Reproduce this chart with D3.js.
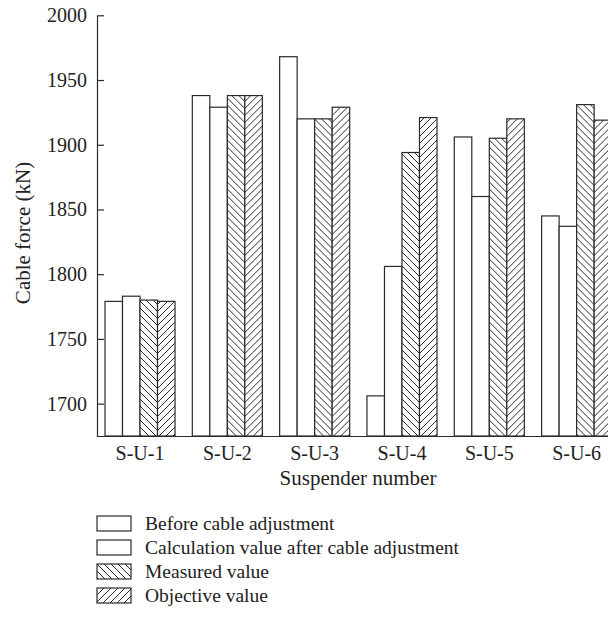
<!DOCTYPE html>
<html>
<head>
<meta charset="utf-8">
<script src="https://cdn.jsdelivr.net/npm/d3@7/dist/d3.min.js"></script>
<style>
  html, body { margin: 0; padding: 0; background: #fff; }
  svg { display: block; }
  text { font-family: "Liberation Serif", "DejaVu Serif", serif; fill: #222; }
</style>
</head>
<body>
<svg id="chart" width="608" height="620"></svg>
<script>
// ---- data ----
const categories = ["S-U-1", "S-U-2", "S-U-3", "S-U-4", "S-U-5", "S-U-6"];
const seriesNames = ["Before cable adjustment", "Calculation value after cable adjustment", "Measured value", "Objective value"];
const beforeAdjustment = [1779, 1938, 1968, 1706, 1906, 1845];
const calculationAfter = [1783, 1929, 1920, 1806, 1860, 1837];
const measuredValue   = [1780, 1938, 1920, 1894, 1905, 1931];
const objectiveValue  = [1779, 1938, 1929, 1921, 1920, 1919];
const yTicks = [1700, 1750, 1800, 1850, 1900, 1950, 2000];
const yDomain = [1675, 2000];
const seriesFill = ["none", "none", "back", "fwd"];

const seriesValues = [beforeAdjustment, calculationAfter, measuredValue, objectiveValue];
const rows = categories.map((c, i) => ({
  cat: c,
  vals: seriesNames.map((s, j) => ({ key: s, idx: j, v: seriesValues[j][i] }))
}));

const svg = d3.select("#chart");
const ink = "#2a2a2a";
const P = 7;

// patterns
const defs = svg.append("defs");
const pBack = defs.append("pattern").attr("id", "hatch-back")
  .attr("patternUnits", "userSpaceOnUse").attr("width", P).attr("height", P);
pBack.append("rect").attr("width", P).attr("height", P).attr("fill", "#fff");
pBack.append("path").attr("d", `M0,0L${P},${P}M-1,${P-1}L1,${P+1}M${P-1},-1L${P+1},1`)
  .attr("stroke", ink).attr("stroke-width", 1).attr("fill", "none");
const pFwd = defs.append("pattern").attr("id", "hatch-fwd")
  .attr("patternUnits", "userSpaceOnUse").attr("width", P).attr("height", P);
pFwd.append("rect").attr("width", P).attr("height", P).attr("fill", "#fff");
pFwd.append("path").attr("d", `M0,${P}L${P},0M-1,1L1,-1M${P-1},${P+1}L${P+1},${P-1}`)
  .attr("stroke", ink).attr("stroke-width", 1).attr("fill", "none");

function fillFor(j) {
  if (seriesFill[j] === "back") return "url(#hatch-back)";
  if (seriesFill[j] === "fwd") return "url(#hatch-fwd)";
  return "#fff";
}

// scales
const x0 = d3.scaleBand().domain(categories).range([96.35, 620.3])
  .paddingInner(0.198).paddingOuter(0.099);
const x1 = d3.scaleBand().domain(seriesNames).range([0, x0.bandwidth()]).padding(0);
const y = d3.scaleLinear().domain(yDomain).range([436, 15.3]);

// bars
const g = svg.append("g");
g.selectAll("g.grp").data(rows).join("g").attr("class", "grp")
  .attr("transform", d => `translate(${x0(d.cat)},0)`)
  .selectAll("rect").data(d => d.vals).join("rect")
  .attr("x", d => x1(d.key))
  .attr("width", x1.bandwidth())
  .attr("y", d => y(d.v))
  .attr("height", d => y(yDomain[0]) - y(d.v))
  .attr("fill", d => fillFor(d.idx))
  .attr("stroke", ink).attr("stroke-width", 1.2);

// y axis
const yAxis = svg.append("g").attr("transform", "translate(97,0)")
  .call(d3.axisLeft(y).tickValues(yTicks).tickFormat(d3.format("d"))
    .tickSizeInner(-7).tickSizeOuter(0).tickPadding(10));
yAxis.selectAll("path, line").attr("stroke", ink).attr("stroke-width", 1.2);
yAxis.selectAll("text").style("font-size", "20px").style("font-family", "Liberation Serif").attr("fill", "#222");

// x axis
const xAxis = svg.append("g").attr("transform", "translate(0,436)")
  .call(d3.axisBottom(x0).tickSize(0).tickPadding(10));
xAxis.select("path").attr("stroke", ink).attr("stroke-width", 1.2);
xAxis.selectAll("text").style("font-size", "20px").style("font-family", "Liberation Serif").attr("fill", "#222");

// titles
svg.append("text").attr("x", 358).attr("y", 485).attr("text-anchor", "middle")
  .style("font-size", "21px").text("Suspender number");
svg.append("text").attr("transform", "translate(30,233) rotate(-90)")
  .attr("text-anchor", "middle").style("font-size", "21px").text("Cable force (kN)");

// legend
const lg = svg.append("g").selectAll("g").data(seriesNames).join("g")
  .attr("transform", (d, i) => `translate(97,${516 + i * 24})`);
lg.append("rect").attr("width", 34).attr("height", 15)
  .attr("fill", (d, i) => fillFor(i)).attr("stroke", ink).attr("stroke-width", 1.2);
lg.append("text").attr("x", 48).attr("y", 7.5).attr("dy", "0.35em")
  .style("font-size", "19.5px").text(d => d);
</script>
</body>
</html>
